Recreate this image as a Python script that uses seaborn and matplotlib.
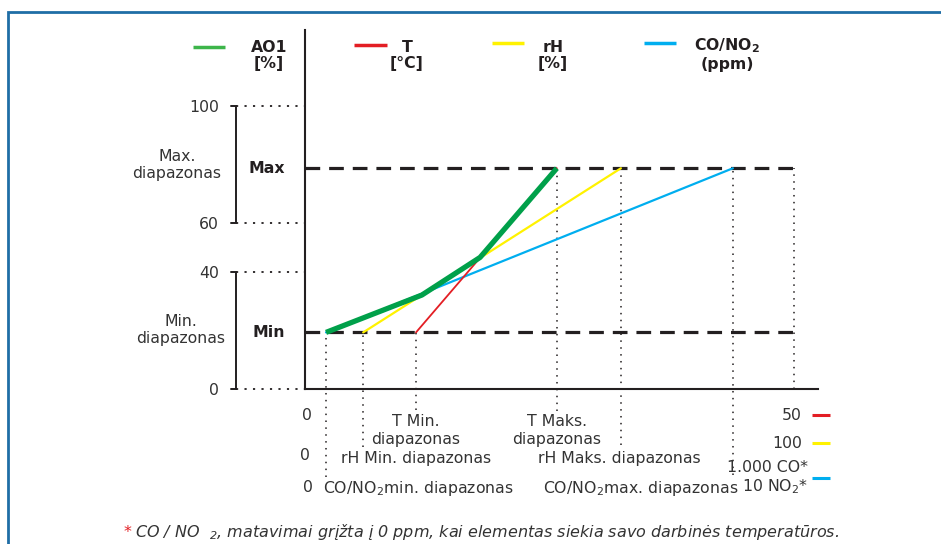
import matplotlib
matplotlib.use("Agg")
import matplotlib.pyplot as plt
import seaborn as sns

# data (x in % of the full scale of each quantity, y in % of AO1)
y_ticks = [0, 41.3, 58.7, 100]
y_tick_labels = ["0", "40", "60", "100"]
min_level = 20
max_level = 78

t_x = [22.7, 51.5]
t_y = [min_level, max_level]
rh_x = [11.9, 64.6]
rh_y = [min_level, max_level]
co_x = [4.3, 87.5]
co_y = [min_level, max_level]
ao_x = [4.3, 23.9, 35.8, 51.5]
ao_y = [20, 33.2, 46.5, 78]
x_end = 100

legend_names = ["AO1\n[%]", "T\n[°C]", "rH\n[%]", "CO/NO$_\\mathbf{2}$\n(ppm)"]
scale_ends = ["50", "100", "1.000 CO*\n10 NO$_2$*"]

GREEN = "#00a04a"
RED = "#e31e24"
YELLOW = "#fff200"
BLUE = "#00aeef"
DARK = "#231f20"
TXT = "#333333"

# pixel helpers: picture pixels (top-left origin) -> data units
X0, XS = 305, 4.89
Y0, YS = 389, 2.83


def dx(p):
    return (p - X0) / XS


def dy(p):
    return (Y0 - p) / YS


sns.set_theme(style="white")
plt.rcParams["font.family"] = ["DejaVu Sans"]
plt.rcParams["mathtext.default"] = "regular"

fig = plt.figure(figsize=(9.41, 5.44), dpi=100)
ax = fig.add_axes([0, 0, 1, 1])
ax.set_xlim(dx(0), dx(941))
ax.set_ylim(dy(544), dy(0))
ax.patch.set_alpha(0)

# axes
for s in ["top", "right"]:
    ax.spines[s].set_visible(False)
ax.spines["left"].set_position(("data", 0))
ax.spines["bottom"].set_position(("data", 0))
ax.spines["left"].set_bounds(0, dy(30))
ax.spines["bottom"].set_bounds(0, dx(818))
for s in ["left", "bottom"]:
    ax.spines[s].set_color(DARK)
    ax.spines[s].set_linewidth(1.5)

ax.set_yticks(y_ticks)
ax.set_yticklabels(y_tick_labels)
ax.tick_params(axis="y", length=0, pad=62, labelsize=11.3, labelcolor=TXT)
ax.set_xticks([0, x_end])
ax.set_xticklabels([])
ax.tick_params(axis="x", direction="out", length=8.5, width=1.5, color=DARK)

# dotted guides from the y axis and brackets
bx = dx(236)
for yv in y_ticks:
    ax.hlines(yv, bx, 0, colors=DARK, linestyles=(0, (1.2, 3.5)), lw=1.3)
for lo, hi in [(y_ticks[0], y_ticks[1]), (y_ticks[2], y_ticks[3])]:
    ax.plot([dx(231), bx, bx, dx(231)], [hi, hi, lo, lo], color=DARK, lw=1.4,
            solid_joinstyle="miter")

# Min / Max dashed levels
for lvl in [min_level, max_level]:
    ax.hlines(lvl, 0, dx(797), colors=DARK, lw=2.3, linestyles=(0, (4.6, 2.8)))

# vertical dotted markers
dot = dict(colors=DARK, linestyles=(0, (1, 3.5)), lw=1.1)
ax.vlines(co_x[0], dy(477), min_level, **dot)
ax.vlines(rh_x[0], dy(447), min_level, **dot)
ax.vlines(t_x[0], dy(410), min_level, **dot)
ax.vlines(t_x[1], dy(411), max_level, **dot)
ax.vlines(rh_x[1], dy(445), max_level, **dot)
ax.vlines(co_x[1], dy(475), max_level, **dot)
ax.vlines(x_end, 0, max_level, **dot)

# series
sns.lineplot(x=co_x, y=co_y, color=BLUE, lw=1.6, ax=ax)
sns.lineplot(x=rh_x, y=rh_y, color=YELLOW, lw=1.6, ax=ax)
sns.lineplot(x=t_x, y=t_y, color=RED, lw=1.3, ax=ax)
sns.lineplot(x=ao_x, y=ao_y, color=GREEN, lw=3.8, ax=ax,
             solid_capstyle="butt", solid_joinstyle="round")

# left labels
fs = 11.3
ax.text(dx(177), dy(165), "Max.\ndiapazonas", ha="center", va="center",
        fontsize=fs, color=TXT, linespacing=1.2)
ax.text(dx(181), dy(330), "Min.\ndiapazonas", ha="center", va="center",
        fontsize=fs, color=TXT, linespacing=1.2)
ax.text(dx(267), max_level, "Max", ha="center", va="center", fontsize=fs,
        fontweight="bold", color=DARK)
ax.text(dx(269), min_level, "Min", ha="center", va="center", fontsize=fs,
        fontweight="bold", color=DARK)

# legend row
leg = [(193, 225, 47.3, "#3db54a", 269, 55.5), (354, 387, 45, RED, 407, 55.5),
       (492, 524, 42.7, YELLOW, 553, 55.5), (644, 676, 42.7, BLUE, 727, 54)]
for (a, b, ly, c, tx, ty), name in zip(leg, legend_names):
    ax.plot([dx(a), dx(b)], [dy(ly), dy(ly)], color=c, lw=2.5, solid_capstyle="butt")
    ax.text(dx(tx), dy(ty), name, ha="center", va="center", fontsize=fs,
            fontweight="bold", color=DARK, linespacing=1.15)

# bottom labels
ax.text(dx(307), dy(415), "0", ha="center", va="center", fontsize=fs, color=TXT)
ax.text(dx(305), dy(456), "0", ha="center", va="center", fontsize=fs, color=TXT)
ax.text(dx(308), dy(488), "0", ha="center", va="center", fontsize=fs, color=TXT)
ax.text(t_x[0], dy(430.5), "T Min.\ndiapazonas", ha="center", va="center",
        fontsize=fs, color=TXT, linespacing=1.2)
ax.text(t_x[1], dy(430.5), "T Maks.\ndiapazonas", ha="center", va="center",
        fontsize=fs, color=TXT, linespacing=1.2)
ax.text(dx(416), dy(459), "rH Min. diapazonas", ha="center", va="center",
        fontsize=fs, color=TXT)
ax.text(dx(619), dy(459), "rH Maks. diapazonas", ha="center", va="center",
        fontsize=fs, color=TXT)
ax.text(dx(418), dy(488), "CO/NO$_2$min. diapazonas", ha="center", va="center",
        fontsize=fs, color=TXT)
ax.text(dx(641), dy(488), "CO/NO$_2$max. diapazonas", ha="center", va="center",
        fontsize=fs, color=TXT)

ends = [(802, 415, RED), (802, 443, YELLOW), (808, 478, BLUE)]
for (rx, ry, c), lab in zip(ends, scale_ends):
    ax.text(dx(rx), dy(ry), lab, ha="right", va="center", fontsize=fs,
            color=TXT, linespacing=1.15)
    ax.plot([dx(812), dx(830)], [dy(ry), dy(ry)], color=c, lw=2.2,
            solid_capstyle="butt")

# footnote
ax.text(dx(127), dy(532), "*", ha="center", va="center", fontsize=fs,
        color=RED, style="italic")
ax.text(dx(135), dy(532),
        "CO / NO  $_2$, matavimai grįžta į 0 ppm, kai elementas siekia savo darbinės temperatūros.",
        ha="left", va="center", fontsize=11.55, color=TXT, style="italic")

# frame
ax.plot([dx(8), dx(8), dx(941)], [dy(544), dy(12), dy(12)], color="#1f6ea6",
        lw=2.0, solid_joinstyle="miter", clip_on=False)

fig.savefig("out.png", dpi=100)
